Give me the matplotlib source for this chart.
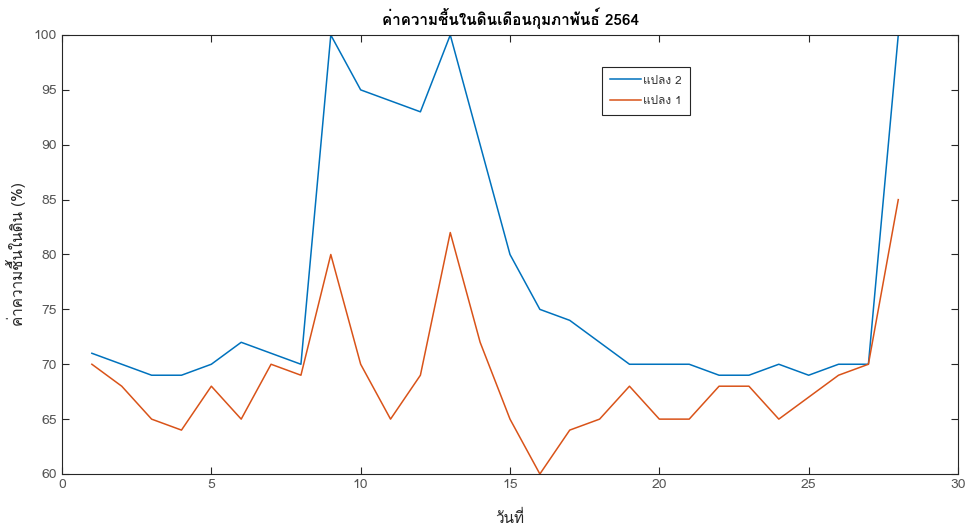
import numpy as np
import matplotlib
matplotlib.use('Agg')
import matplotlib.pyplot as plt
from matplotlib import font_manager
from matplotlib.ft2font import FT2Font

days = list(range(1, 29))
plot2 = [71, 70, 69, 69, 70, 72, 71, 70, 100, 95, 94, 93, 100, 90, 80, 75, 74, 72,
         70, 70, 70, 69, 69, 70, 69, 70, 70, 100]
plot1 = [70, 68, 65, 64, 68, 65, 70, 69, 80, 70, 65, 69, 82, 72, 65, 60, 64, 65,
         68, 65, 65, 68, 68, 65, 67, 69, 70, 85]

title = 'ค่าความชื้นในดินเดือนกุมภาพันธ์ 2564'
xlabel = 'วันที่'
ylabel = 'ค่าความชื้นในดิน (%)'
labels = ['แปลง 2', 'แปลง 1']


# find an installed font that can draw Thai
def thai_font():
    found = []
    for f in font_manager.fontManager.ttflist:
        try:
            cmap = FT2Font(f.fname).get_charmap()
        except Exception:
            continue
        if 0x0E01 in cmap and 0x0E49 in cmap:
            found.append(f.name)
    return found


thai = thai_font()
plt.rcParams['font.family'] = (thai[:1] if thai else []) + ['DejaVu Sans']

fig = plt.figure(figsize=(9.68, 5.30), dpi=100)
ax = fig.add_axes([62 / 968, 1 - 474 / 530, 896 / 968, 439 / 530])

ax.plot(days, plot2, color='#0072BD', lw=1.1, label=labels[0])
ax.plot(days, plot1, color='#D95319', lw=1.1, label=labels[1])

ax.set_xlim(0, 30)
ax.set_ylim(60, 100)
ax.set_xticks(np.arange(0, 31, 5))
ax.set_yticks(np.arange(60, 101, 5))
ax.tick_params(direction='in', top=True, right=True, labelsize=10,
               color='#262626', labelcolor='#555555', length=5, width=0.8)
for s in ax.spines.values():
    s.set_color('#262626')
    s.set_linewidth(0.8)

ax.set_title(title, fontsize=11, fontweight='bold', pad=7)
ax.set_xlabel(xlabel, fontsize=11, color='#262626', labelpad=14)
ax.set_ylabel(ylabel, fontsize=11, color='#262626', labelpad=6)

leg = ax.legend(loc='upper left', bbox_to_anchor=(0.6027, 0.927), fontsize=8.5,
                borderaxespad=0, fancybox=False, framealpha=1, edgecolor='#262626',
                handlelength=2.6, handletextpad=0.2, borderpad=0.7, labelspacing=0.9)
leg.get_frame().set_linewidth(0.8)
for t in leg.get_texts():
    t.set_color('#333333')

fig.savefig('out.png', dpi=100)
